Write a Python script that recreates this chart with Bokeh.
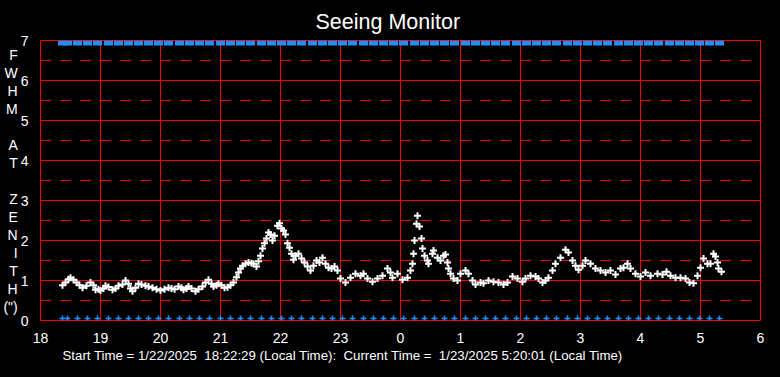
from bokeh.plotting import figure
from bokeh.models import FixedTicker, Range1d, Title
from bokeh.embed import file_html
from bokeh.resources import INLINE

# ---- data (minutes after 18:00) ----
fwhm_minutes = [22, 25, 28, 30, 33, 36, 39, 42, 46, 50, 53, 55, 58, 60, 63, 65, 68, 72, 75, 78,
                82, 85, 88, 90, 92, 95, 98, 101, 105, 108, 112, 116, 120, 124, 128, 131, 134, 138,
                141, 143, 146, 148, 151, 155, 158, 162, 165, 168, 171, 173, 176, 178, 181, 184,
                187, 190, 193, 196, 198, 200, 202, 205, 208, 211, 213, 216, 218, 220, 222, 224,
                226, 228, 230, 232, 234, 237, 239, 241, 243, 245, 247, 249, 251, 253, 255, 258,
                261, 264, 267, 270, 273, 276, 279, 282, 285, 288, 291, 294, 297, 300, 305, 310,
                315, 320, 323, 327, 332, 337, 342, 347, 350, 352, 357, 362, 367, 370, 372, 373,
                374, 376, 377, 379, 381, 382, 384, 387, 388, 392, 393, 397, 400, 403, 405, 407,
                408, 410, 413, 417, 420, 425, 428, 432, 435, 440, 443, 448, 453, 458, 463, 467,
                472, 477, 482, 485, 490, 495, 498, 502, 505, 508, 512, 515, 520, 525, 528, 532,
                535, 538, 542, 545, 550, 555, 560, 565, 570, 575, 580, 583, 587, 590, 595, 600,
                605, 610, 617, 622, 626, 630, 635, 640, 645, 649, 653, 657, 660, 663, 667, 670,
                673, 675, 677, 678, 681]
fwhm_values = [0.88, 0.95, 1.03, 1.07, 1.02, 0.95, 0.88, 0.82, 0.87, 0.95, 0.88, 0.77, 0.78, 0.75,
               0.80, 0.87, 0.84, 0.77, 0.80, 0.87, 0.90, 1.00, 0.92, 0.80, 0.73, 0.82, 0.92, 0.90,
               0.87, 0.85, 0.82, 0.78, 0.75, 0.78, 0.82, 0.80, 0.78, 0.85, 0.82, 0.77, 0.80, 0.85,
               0.80, 0.73, 0.78, 0.85, 0.95, 1.02, 0.92, 0.85, 0.88, 0.92, 0.88, 0.82,
               0.83, 0.88, 0.95, 1.08, 1.20, 1.30, 1.37, 1.42, 1.45, 1.43, 1.42, 1.35, 1.48, 1.62,
               1.80, 1.93, 2.05, 2.20, 2.15, 2.00, 2.12, 2.37, 2.43, 2.30, 2.25, 2.15, 1.93, 1.82,
               1.67, 1.52, 1.62, 1.67, 1.55, 1.45, 1.35, 1.25, 1.37, 1.50, 1.45, 1.57, 1.42, 1.32,
               1.30, 1.35, 1.25, 1.05, 0.95, 1.07, 1.17, 1.12, 1.17, 1.05, 0.97, 1.05, 1.12, 1.30,
               1.20, 1.07, 1.17, 1.02, 1.07, 1.25, 1.42, 1.67, 2.00, 2.42, 2.62, 2.35, 2.05, 1.80,
               1.62, 1.50, 1.42, 1.67, 1.75, 1.57, 1.50, 1.62, 1.65, 1.45, 1.30, 1.17, 1.05, 1.00,
               1.17, 1.25, 1.17, 1.00, 0.90, 0.95, 0.93, 1.00, 0.97, 0.95, 0.90, 0.95, 1.10, 1.05,
               0.97, 1.05, 1.12, 1.10, 1.05, 0.95, 1.00, 1.07, 1.25, 1.42, 1.57, 1.77, 1.70, 1.50,
               1.37, 1.27, 1.37, 1.50, 1.42, 1.30, 1.25, 1.20, 1.25, 1.15, 1.30, 1.32, 1.42, 1.30,
               1.17, 1.10, 1.20, 1.12, 1.17, 1.15, 1.22, 1.12, 1.07, 1.07, 1.05, 0.95, 0.93, 1.12,
               1.32, 1.55, 1.42, 1.42, 1.67, 1.60, 1.45, 1.30, 1.22]

marker_minutes = [22, 27, 37, 47, 57, 68, 78, 88, 98, 108, 118, 128, 139, 149, 159, 169, 180, 190,
                  200, 210, 221, 231, 241, 251, 261, 272, 282, 292, 302, 312, 323, 333, 343, 353,
                  363, 374, 384, 394, 404, 414, 425, 435, 445, 455, 465, 476, 486, 496, 506, 516,
                  527, 537, 547, 557, 567, 578, 588, 598, 608, 618, 629, 639, 649, 659, 669, 679]
top_level = 6.94
bottom_level = 0.05

x_ticks = [18, 19, 20, 21, 22, 23, 24, 25, 26, 27, 28, 29, 30]
x_tick_labels = ["18", "19", "20", "21", "22", "23", "0", "1", "2", "3", "4", "5", "6"]
y_ticks = [0, 1, 2, 3, 4, 5, 6, 7]
y_minor = [0.5, 1.5, 2.5, 3.5, 4.5, 5.5, 6.5]
ylabel_letters = ["F", "W", "H", "M", "", "A", "T", "", "Z", "E", "N", "I", "T", "H", "(\")"]
title_text = "Seeing Monitor"
footer_text = ("Start Time = 1/22/2025 \u00a018:22:29 (Local Time): \u00a0Current Time = "
               "\u00a01/23/2025 5:20:01 (Local Time)")

fx = [18 + m / 60 for m in fwhm_minutes]
mx = [18 + m / 60 for m in marker_minutes]

FONT = "Liberation Sans"

p = figure(width=780, height=377, output_backend="svg", toolbar_location=None,
           x_range=Range1d(18, 30), y_range=Range1d(0, 7))
p.min_border = 0
p.min_border_left = 40
p.min_border_right = 20
p.min_border_top = 40
p.min_border_bottom = 57
p.background_fill_color = "black"
p.border_fill_color = "black"
p.outline_line_color = "#ff0000"
p.outline_line_width = 1

p.title.text = title_text
p.title.align = "left"
p.title.offset = 275
p.title.text_color = "white"
p.title.text_font = FONT
p.title.text_font_size = "21.5px"
p.title.text_font_style = "normal"
p.title.standoff = 13

footer = Title(text=footer_text, align="left", offset=22, text_color="white", text_font=FONT,
               text_font_size="13.25px", text_font_style="normal", standoff=1)
p.add_layout(footer, "below")

p.xaxis.ticker = FixedTicker(ticks=x_ticks)
p.xaxis.major_label_overrides = {t: l for t, l in zip(x_ticks, x_tick_labels)}
p.yaxis.ticker = FixedTicker(ticks=y_ticks, minor_ticks=y_minor)
for ax in (p.xaxis, p.yaxis):
    ax.axis_line_color = None
    ax.major_tick_line_color = None
    ax.minor_tick_line_color = None
    ax.major_label_text_color = "white"
    ax.major_label_text_font = FONT
    ax.major_label_text_font_size = "14px"
p.xaxis.major_label_standoff = 6
p.yaxis.major_label_standoff = 6

p.yaxis.axis_label = "\n".join(ylabel_letters)
p.yaxis.axis_label_orientation = "horizontal"
p.yaxis.axis_label_text_color = "white"
p.yaxis.axis_label_text_font = FONT
p.yaxis.axis_label_text_font_size = "14px"
p.yaxis.axis_label_text_font_style = "normal"
p.yaxis.axis_label_text_line_height = 1.125
p.yaxis.axis_label_standoff = 0

p.xgrid.grid_line_color = "#ff0000"
p.ygrid.grid_line_color = "#ff0000"
p.xgrid.grid_line_width = 1
p.ygrid.grid_line_width = 1
p.ygrid.minor_grid_line_color = "#ff0000"
p.ygrid.minor_grid_line_dash = "10 10"

# top blue band
p.rect(x=mx, y=[top_level] * len(mx), width=9, height=5, width_units="screen",
       height_units="screen", fill_color="#1e90ff", line_color=None)
# bottom blue pluses
p.scatter(x=mx, y=[bottom_level] * len(mx), marker="cross", size=6, line_color="#1e90ff",
          line_width=1.5)
# FWHM data
p.scatter(x=fx, y=fwhm_values, marker="cross", size=7, line_color="white", line_width=2)

html = file_html(p, INLINE)
html = html.replace("</head>", "<style>html,body{background:#000;}</style></head>", 1)
open("out.html", "w").write(html)
